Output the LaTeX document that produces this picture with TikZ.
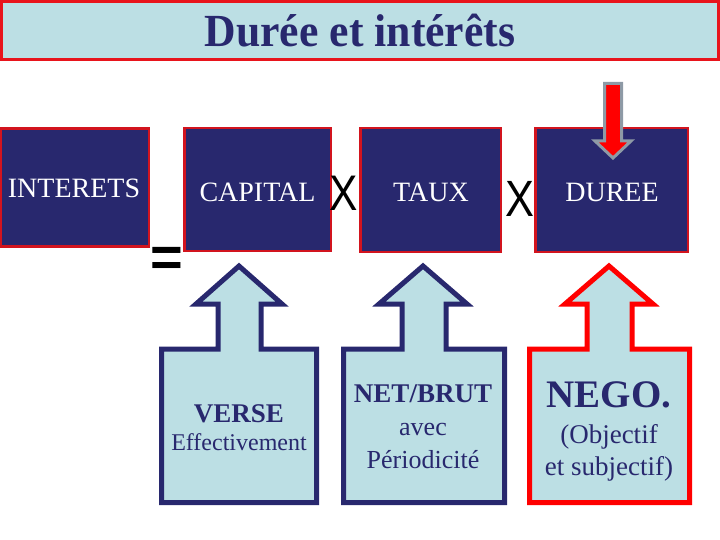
\documentclass[tikz,border=0pt]{standalone}
\usepackage{fontspec}
\setmainfont{Liberation Serif}
\newfontfamily\sansf{Liberation Sans}
\definecolor{navy}{HTML}{28286E}
\definecolor{boxred}{HTML}{D2141E}
\definecolor{lblue}{HTML}{BCDFE4}
\definecolor{titred}{HTML}{E8141C}
\definecolor{arrgray}{HTML}{8E9AA6}
\begin{document}
\begin{tikzpicture}[x=1pt,y=-1pt,
  navybox/.style={draw=boxred, fill=navy, line width=2.5pt, inner sep=0pt},
  boxtext/.style={text=white, inner sep=0pt, anchor=base, font=\fontsize{28}{34}\selectfont},
  optext/.style={text=black, inner sep=0pt, anchor=base},
  callblue/.style={draw=navy, fill=lblue, line width=5pt, line join=miter},
  callred/.style={draw=red, fill=lblue, line width=5pt, line join=miter},
  ctext/.style={text=navy, inner sep=0pt, anchor=base, font=\fontsize{27}{32}\selectfont},
  cbold/.style={ctext, font=\bfseries\fontsize{27}{32}\selectfont}
]
\useasboundingbox (0,0) rectangle (720,540);
% title bar
\node[draw=titred, fill=lblue, line width=3pt, minimum width=717pt, minimum height=58pt, inner sep=0pt] (titlebar) at (360,31) {};
\node[text=navy, inner sep=0pt, anchor=base, xscale=0.95, font=\bfseries\fontsize{46}{50}\selectfont] (title) at (360,47) {Durée et intérêts};
% boxes
\node[navybox, minimum width=148pt, minimum height=118pt] (int) at (75,187.5) {};
\node[navybox, minimum width=146.5pt, minimum height=122.5pt] (cap) at (257.5,189.5) {};
\node[navybox, minimum width=140.5pt, minimum height=123.5pt] (taux) at (430.5,190) {};
\node[navybox, minimum width=152.5pt, minimum height=123.5pt] (duree) at (611.5,190) {};
\node[boxtext] (tint) at (74,198) {INTERETS};
\node[boxtext] (tcap) at (257.5,201.5) {CAPITAL};
\node[boxtext] (ttaux) at (431,201.5) {TAUX};
\node[boxtext] (tduree) at (612,201.5) {DUREE};
% operators
\node[optext, xscale=0.85, font=\sansf\fontsize{50}{50}\selectfont] (x1) at (344,211) {X};
\node[optext, xscale=0.85, font=\sansf\fontsize{51}{51}\selectfont] (x2) at (520,217) {X};
\node[optext, font=\sansf\bfseries\fontsize{56}{56}\selectfont] (eq) at (166.5,276) {=};
% red arrow
\draw[fill=red, draw=arrgray, line width=3pt, line join=miter] (604.5,83.5) -- (621.5,83.5) -- (621.5,141) -- (631,141) -- (613,158) -- (595,141) -- (604.5,141) -- cycle;
% callouts
\draw[callblue] (239,266) -- (282,304) -- (261,304) -- (261,349) -- (316.5,349) -- (316.5,502.5) -- (161.5,502.5) -- (161.5,349) -- (218,349) -- (218,304) -- (196,304) -- cycle;
\draw[callblue] (423,266) -- (467,304) -- (446,304) -- (446,349) -- (504.5,349) -- (504.5,502.5) -- (343.5,502.5) -- (343.5,349) -- (402,349) -- (402,304) -- (379,304) -- cycle;
\draw[callred] (609,266) -- (653,304) -- (632,304) -- (632,349) -- (689.5,349) -- (689.5,502.5) -- (529.5,502.5) -- (529.5,349) -- (587,349) -- (587,304) -- (565,304) -- cycle;
% callout texts
\node[cbold] (verse) at (239,422) {VERSE};
\node[ctext, font=\fontsize{24}{28}\selectfont] (effect) at (239,450) {Effectivement};
\node[cbold] (net) at (423,402) {NET/BRUT};
\node[ctext, font=\fontsize{26}{30}\selectfont] (avec) at (423,435) {avec};
\node[ctext, font=\fontsize{26}{30}\selectfont] (period) at (423,468) {Périodicité};
\node[cbold, font=\bfseries\fontsize{39}{44}\selectfont] (nego) at (609,407) {NEGO.};
\node[ctext] (obj) at (609,443) {(Objectif};
\node[ctext] (subj) at (609,475) {et subjectif)};
\end{tikzpicture}
\end{document}
